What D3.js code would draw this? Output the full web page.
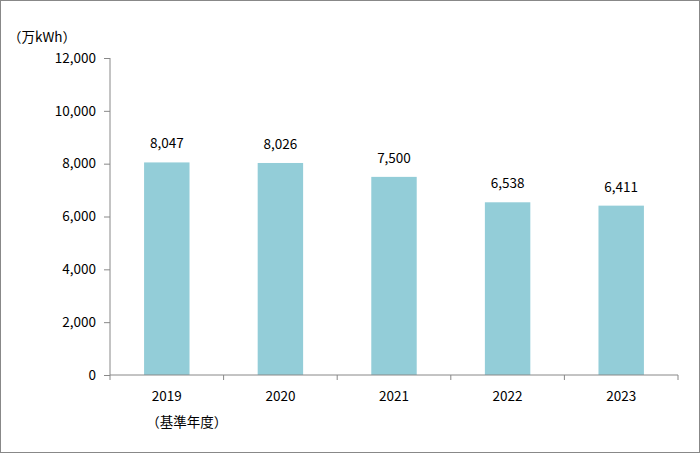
<!DOCTYPE html>
<html><head><meta charset="utf-8">
<script src="https://cdn.jsdelivr.net/npm/d3@7"></script>
<style>body{margin:0;background:#fff}svg{display:block}text{font-family:"Noto Sans CJK JP","Noto Sans",sans-serif;font-size:13.5px;fill:#000}</style>
</head><body>
<script>
const categories = ["2019", "2020", "2021", "2022", "2023"];
const subLabels = ["（基準年度）", "", "", "", ""];
const values = [8047, 8026, 7500, 6538, 6411];
const yTicks = [0, 2000, 4000, 6000, 8000, 10000, 12000];
const unitLabel = "（万kWh）";

const W = 700, H = 453;
const svg = d3.select("body").append("svg").attr("width", W).attr("height", H);
svg.append("rect").attr("x", 0.5).attr("y", 0.5).attr("width", W - 1).attr("height", H - 1)
  .attr("fill", "#fff").attr("stroke", "#888");

const L = 110, R = 678, T = 58, B = 375;
const x = d3.scaleBand().domain(categories).range([L, R]).paddingInner(0.6).paddingOuter(0.3);
const y = d3.scaleLinear().domain([0, 12000]).range([B, T]);

svg.append("g").selectAll("rect").data(values).join("rect")
  .attr("x", (d, i) => x(categories[i])).attr("width", x.bandwidth())
  .attr("y", d => y(d)).attr("height", d => B - y(d)).attr("fill", "#93cdd8");

svg.append("g").selectAll("text").data(values).join("text")
  .attr("x", (d, i) => x(categories[i]) + x.bandwidth() / 2).attr("y", d => y(d) - 14)
  .attr("text-anchor", "middle").text(d => d3.format(",")(d));

const ya = svg.append("g").attr("transform", `translate(${L},0)`)
  .call(d3.axisLeft(y).tickValues(yTicks).tickFormat(d3.format(",")).tickSize(6).tickPadding(8));
ya.selectAll("path,line").attr("stroke", "#888");
ya.select(".domain").attr("d", `M0,${T}V${B}`);
ya.selectAll("text").style("font-size", "13.5px").style("font-family", "Noto Sans CJK JP");

// x axis
const step = (R - L) / categories.length;
const xa = svg.append("g");
xa.append("line").attr("x1", L).attr("x2", R).attr("y1", B).attr("y2", B).attr("stroke", "#888");
xa.selectAll("line.t").data(d3.range(categories.length + 1)).join("line").attr("class", "t")
  .attr("x1", i => L + i * step).attr("x2", i => L + i * step).attr("y1", B).attr("y2", B + 5).attr("stroke", "#888");
xa.selectAll("text.c").data(categories).join("text").attr("class", "c")
  .attr("x", d => x(d) + x.bandwidth() / 2).attr("y", 401).attr("text-anchor", "middle").text(d => d);
xa.selectAll("text.s").data(subLabels).join("text").attr("class", "s")
  .attr("x", (d, i) => x(categories[i]) + x.bandwidth() / 2 + 20).attr("y", 427).attr("text-anchor", "middle").text(d => d);

svg.append("text").attr("x", 8).attr("y", 42).text(unitLabel);
</script>
</body></html>
